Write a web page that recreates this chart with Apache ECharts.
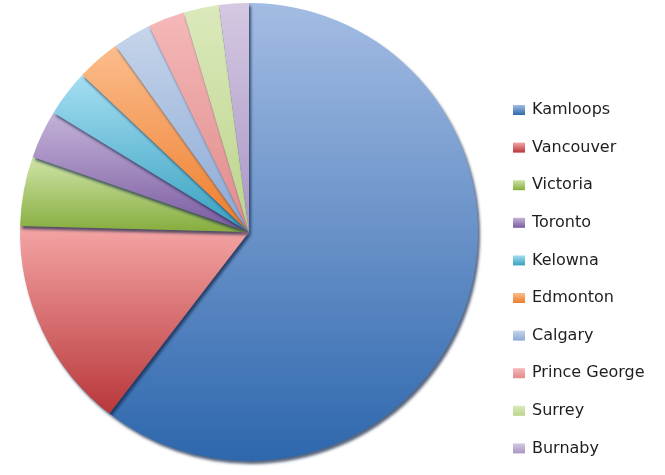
<!DOCTYPE html>
<html>
<head>
<meta charset="utf-8">
<script src="https://cdn.jsdelivr.net/npm/echarts@6/dist/echarts.min.js"></script>
<style>
html,body{margin:0;padding:0;background:#fff;}
#chart{width:665px;height:475px;}
</style>
</head>
<body>
<div id="chart"></div>
<script>
var cities = ['Kamloops','Vancouver','Victoria','Toronto','Kelowna','Edmonton','Calgary','Prince George','Surrey','Burnaby'];
var shares = [60.5, 15.0, 4.9, 3.4, 3.3, 3.1, 2.7, 2.6, 2.5, 2.1];
var topColors = ['#a3bce3','#f5a5a5','#d0e4a8','#c4b3d9','#a5def2','#fbbd8d','#c6d5ea','#f5b8b8','#dbe9bb','#d5c8e2'];
var bottomColors = ['#2e67ad','#b8373a','#86ad3e','#7a5aa0','#36a0bf','#ee7d2b','#8aa8d6','#e08a8a','#bcd48b','#a896c4'];

function grad(i){
	return new echarts.graphic.LinearGradient(0,0,0,1,[
		{offset:0,color:topColors[i]},
		{offset:1,color:bottomColors[i]}
	]);
}

var pie_data = [];
for (var i = 0; i < cities.length; i++){
	pie_data.push({
		name:cities[i],
		value:shares[i],
		itemStyle:{color:grad(i)}
	});
}

var my_chart = echarts.init(document.getElementById('chart'));
my_chart.setOption({
	animation:false,
	legend:{
		orient:'vertical',
		left:508,
		top:95,
		itemWidth:12,
		itemHeight:10,
		itemGap:17.6,
		icon:'rect',
		textStyle:{
			fontFamily:'DejaVu Sans',
			fontSize:16,
			lineHeight:20,
			color:'#1e1e1e',
			padding:[0,0,0,2]
		},
		data:cities
	},
	series:[{
		type:'pie',
		center:[249,232],
		radius:229,
		startAngle:90,
		clockwise:true,
		label:{show:false},
		labelLine:{show:false},
		itemStyle:{
			borderWidth:0,
			shadowColor:'rgba(15,35,70,0.7)',
			shadowBlur:3,
			shadowOffsetX:2,
			shadowOffsetY:3
		},
		emphasis:{disabled:true},
		data:pie_data
	}]
});
</script>
</body>
</html>
